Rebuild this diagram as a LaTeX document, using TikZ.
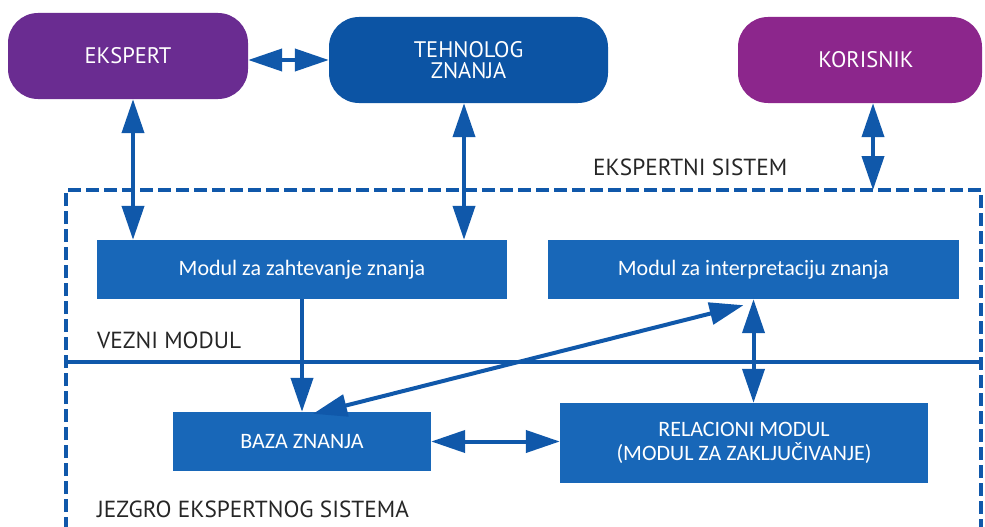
\documentclass[tikz,border=0pt]{standalone}
\usepackage{fontspec}
\setmainfont{PT Sans}
\newfontfamily\boxfont{Carlito}
\usetikzlibrary{arrows.meta}
\definecolor{ekpurple}{RGB}{106,44,145}
\definecolor{korpurple}{RGB}{140,38,140}
\definecolor{tehblue}{RGB}{12,84,164}
\definecolor{boxblue}{RGB}{24,103,184}
\definecolor{arrblue}{RGB}{16,88,170}
\tikzset{
  roundbox/.style={rounded corners=30pt, inner sep=0pt, text=white, align=center,
    font=\fontsize{22.5}{21}\selectfont},
  modbox/.style={fill=boxblue, inner sep=0pt, text=white, align=center,
    font=\boxfont\fontsize{22}{24}\selectfont},
  lbl/.style={anchor=west, inner sep=0pt, text depth=0pt, text=black!85,
    font=\fontsize{23.3}{24}\selectfont},
  conn/.style={draw=arrblue, line width=4pt},
  tip/.tip={Triangle[length=34pt,width=22pt]},
  sgl/.style={conn, -tip},
  dbl/.style={conn, tip-tip},
  dashedframe/.style={draw=arrblue, line width=4pt, dash pattern=on 13pt off 5pt},
}
\begin{document}
\begin{tikzpicture}[x=1pt,y=-1pt]
\fill[white] (0,0) rectangle (985,527);
\useasboundingbox (0,0) rectangle (985,527);

% frame of the expert system
\coordinate (esBL) at (66,530);
\coordinate (esTL) at (66,190);
\coordinate (esTR) at (981,190);
\coordinate (esBR) at (981,530);
\draw[dashedframe] (esBL) -- (esTL) -- (esTR) -- (esBR);
\coordinate (sepL) at (66,362);
\coordinate (sepR) at (981,362);
\draw[draw=arrblue, line width=4pt] (sepL) -- (sepR);

% top boxes
\node[roundbox, fill=ekpurple, minimum width=240pt, minimum height=86pt] (ek) at (128,56) {EKSPERT};
\node[roundbox, fill=tehblue, minimum width=279pt, minimum height=86pt] (teh) at (468.5,60) {TEHNOLOG\\ZNANJA};
\node[roundbox, fill=korpurple, minimum width=244pt, minimum height=86pt] (kor) at (860,60) {\hspace*{12pt}KORISNIK};

% module boxes
\node[modbox, minimum width=410pt, minimum height=59pt] (mz) at (302,269.5) {Modul za zahtevanje znanja};
\node[modbox, minimum width=411pt, minimum height=59pt] (mi) at (753.5,269.5) {Modul za interpretaciju znanja};
\node[modbox, minimum width=258pt, minimum height=59pt] (baza) at (302,441.5) {BAZA ZNANJA};
\node[modbox, minimum width=368pt, minimum height=80pt] (rel) at (744,443) {RELACIONI MODUL\\(MODUL ZA ZAKLJUČIVANJE)};

% labels
\node[lbl] (lES) at (593,167) {EKSPERTNI SISTEM};
\node[lbl] (lVM) at (97,340) {VEZNI MODUL};
\node[lbl] (lJE) at (97,509) {JEZGRO EKSPERTNOG SISTEMA};

% connectors
\draw[dbl] (ek.east |- teh.west) -- (teh.west);
\draw[dbl] ([xshift=5pt]ek.south) -- ([xshift=5pt]ek.south |- mz.north);
\draw[dbl] ([xshift=-4.5pt]teh.south) -- ([xshift=-4.5pt]teh.south |- mz.north);
\draw[dbl] ([xshift=13pt]kor.south) -- ([xshift=13pt]kor.south |- esTR);
\draw[sgl] (mz.south) -- (baza.north);
\draw[dbl] ([shift={(11,2)}]baza.north) -- ([shift={(-10,6)}]mi.south);
\draw[dbl] (mi.south) -- (mi.south |- rel.north);
\draw[dbl] (baza.east) -- (baza.east -| rel.west);
\end{tikzpicture}
\end{document}
